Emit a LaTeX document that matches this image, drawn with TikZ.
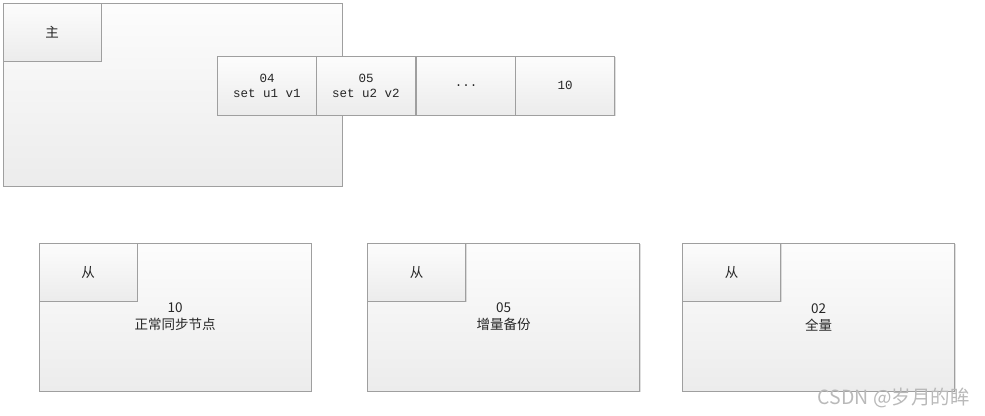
\documentclass[tikz,border=0pt]{standalone}
\usepackage{fontspec}
\newfontfamily\cjk{Noto Sans CJK SC}
\newfontfamily\logfont{Liberation Mono}
\usetikzlibrary{shadows}
\begin{document}
\begin{tikzpicture}[x=1pt,y=-1pt,
	box/.style={draw=gray!75, top color=gray!2, bottom color=gray!15, inner sep=0pt, align=center,
		text=black!85, drop shadow={shadow xshift=1pt, shadow yshift=-1pt, opacity=0.25}},
	tag/.style={box, minimum width=98, minimum height=58, font=\cjk\fontsize{13.5}{15}\selectfont},
	logbox/.style={box, minimum width=99, minimum height=59, font=\logfont\fontsize{12.5}{15}\selectfont},
	slave/.style={box, minimum width=272, minimum height=148, font=\cjk\fontsize{13.5}{17}\selectfont}]
	\useasboundingbox (0,0) rectangle (985,415);

	% master
	\node[box, minimum width=339, minimum height=183] (master) at (172.5,94.5) {};
	\node[tag] (mtag) at (52,32) {主};

	% replication log
	\node[logbox] (log04) at (267,85.5) {04\\set u1 v1};
	\node[logbox] (log05) at (366,85.5) {05\\set u2 v2};
	\node[logbox] (logdots) at (466,85.5) {...};
	\node[logbox] (log10) at (565,85.5) {10};

	% slaves
	\node[slave] (s1) at (175,317) {10\\正常同步节点};
	\node[tag] (s1tag) at (88,272) {从};
	\node[slave] (s2) at (503.5,317) {05\\增量备份};
	\node[tag] (s2tag) at (416.5,272) {从};
	\node[slave] (s3) at (818.5,317) {02\\全量};
	\node[tag] (s3tag) at (731.5,272) {从};

	\node[anchor=base east, text=gray!55, inner sep=0pt] (mark) at (970,404)
		{\cjk\fontsize{19.5}{20}\selectfont CSDN @岁月的眸};
\end{tikzpicture}
\end{document}
